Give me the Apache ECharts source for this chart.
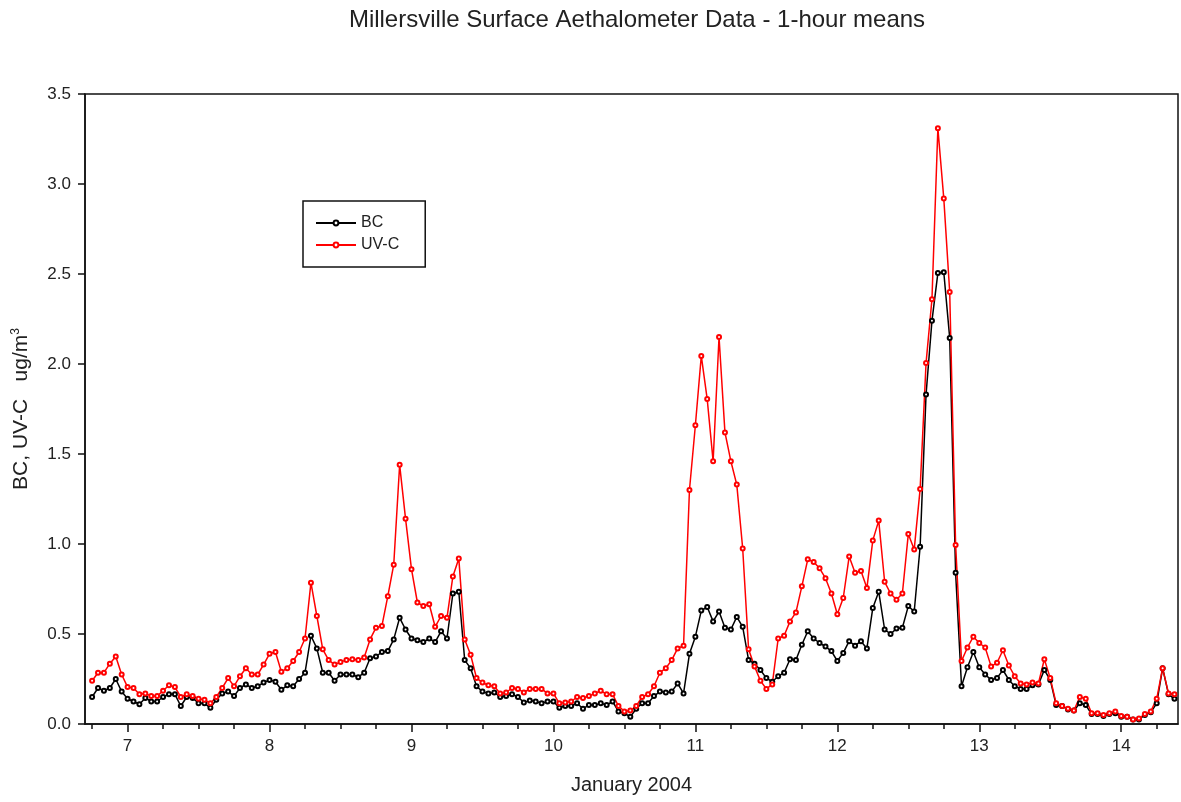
<!DOCTYPE html>
<html>
<head>
<meta charset="utf-8">
<script src="https://cdn.jsdelivr.net/npm/echarts@6/dist/echarts.min.js"></script>
<style>
  html, body { margin: 0; padding: 0; background: #fff; }
  #chart { width: 1181px; height: 802px; }
</style>
</head>
<body>
<div id="chart"></div>
<script>
// Hourly means, starting Jan 6 18:00 (day 6.75)
const startDay = 6.75;
const hoursPerDay = 24;

const bcValues = [
  0.15, 0.20, 0.185, 0.20, 0.25, 0.18, 0.14, 0.125, 0.11, 0.145,
  0.125, 0.125, 0.15, 0.165, 0.165, 0.10, 0.15, 0.145, 0.115, 0.115,
  0.09, 0.135, 0.17, 0.18, 0.155, 0.20, 0.22, 0.20, 0.21, 0.23,
  0.245, 0.235, 0.19, 0.215, 0.21, 0.25, 0.285, 0.49, 0.42, 0.285,
  0.285, 0.24, 0.275, 0.275, 0.275, 0.26, 0.285, 0.365, 0.375, 0.40,
  0.405, 0.47, 0.59, 0.525, 0.475, 0.465, 0.455, 0.475, 0.455, 0.515,
  0.475, 0.725, 0.735, 0.355, 0.31, 0.21, 0.18, 0.17, 0.175, 0.15,
  0.155, 0.165, 0.15, 0.12, 0.13, 0.125, 0.115, 0.125, 0.125, 0.09,
  0.10, 0.10, 0.115, 0.085, 0.105, 0.105, 0.115, 0.105, 0.125, 0.07,
  0.06, 0.04, 0.085, 0.115, 0.115, 0.155, 0.18, 0.175, 0.18, 0.225,
  0.17, 0.39, 0.485, 0.63, 0.65, 0.57, 0.625, 0.535, 0.525, 0.595,
  0.54, 0.355, 0.335, 0.30, 0.255, 0.235, 0.265, 0.285, 0.36, 0.355,
  0.44, 0.515, 0.475, 0.45, 0.43, 0.405, 0.35, 0.395, 0.46, 0.435,
  0.46, 0.42, 0.645, 0.735, 0.525, 0.50, 0.53, 0.535, 0.655, 0.625,
  0.985, 1.83, 2.24, 2.505, 2.51, 2.145, 0.84, 0.21, 0.315, 0.40,
  0.315, 0.275, 0.245, 0.255, 0.30, 0.245, 0.21, 0.195, 0.195, 0.215,
  0.22, 0.30, 0.245, 0.105, 0.10, 0.08, 0.075, 0.115, 0.105, 0.055,
  0.055, 0.045, 0.055, 0.06, 0.04, 0.04, 0.025, 0.025, 0.05, 0.065,
  0.115, 0.31, 0.165, 0.14
];

const uvcValues = [
  0.24, 0.285, 0.285, 0.335, 0.375, 0.275, 0.205, 0.20, 0.165, 0.17,
  0.155, 0.155, 0.185, 0.215, 0.205, 0.15, 0.165, 0.155, 0.14, 0.135,
  0.115, 0.15, 0.20, 0.255, 0.21, 0.265, 0.31, 0.275, 0.275, 0.33,
  0.39, 0.40, 0.29, 0.31, 0.35, 0.40, 0.475, 0.785, 0.60, 0.415,
  0.355, 0.33, 0.345, 0.355, 0.36, 0.355, 0.37, 0.47, 0.535, 0.545,
  0.71, 0.885, 1.44, 1.14, 0.86, 0.675, 0.655, 0.665, 0.54, 0.60,
  0.59, 0.82, 0.92, 0.47, 0.385, 0.255, 0.23, 0.215, 0.21, 0.17,
  0.175, 0.20, 0.195, 0.175, 0.195, 0.195, 0.195, 0.17, 0.17, 0.115,
  0.12, 0.125, 0.15, 0.145, 0.155, 0.17, 0.185, 0.165, 0.165, 0.10,
  0.07, 0.075, 0.10, 0.15, 0.165, 0.21, 0.285, 0.31, 0.355, 0.42,
  0.435, 1.30, 1.66, 2.045, 1.805, 1.46, 2.15, 1.62, 1.46, 1.33,
  0.975, 0.415, 0.32, 0.24, 0.195, 0.22, 0.475, 0.49, 0.57, 0.62,
  0.765, 0.915, 0.90, 0.865, 0.81, 0.725, 0.61, 0.70, 0.93, 0.84,
  0.85, 0.755, 1.02, 1.13, 0.79, 0.725, 0.69, 0.725, 1.055, 0.97,
  1.305, 2.005, 2.36, 3.31, 2.92, 2.40, 0.995, 0.35, 0.425, 0.485,
  0.45, 0.425, 0.32, 0.34, 0.41, 0.325, 0.265, 0.225, 0.22, 0.23,
  0.225, 0.36, 0.255, 0.115, 0.10, 0.085, 0.075, 0.15, 0.14, 0.06,
  0.06, 0.05, 0.06, 0.07, 0.045, 0.04, 0.025, 0.03, 0.055, 0.07,
  0.14, 0.31, 0.17, 0.165
];

const dayTicks = [7, 8, 9, 10, 11, 12, 13, 14];
const quarterTicks = [];
for (let q = 6.75; q <= 14.26; q += 0.25) quarterTicks.push(+q.toFixed(2));

const toPairs = vals => vals.map((v, i) => [startDay + i / hoursPerDay, v]);

const textColor = '#222';
const font = 'Liberation Sans, Arial, sans-serif';

const chart = echarts.init(document.getElementById('chart'), null, { renderer: 'canvas' });

chart.setOption({
  animation: false,
  backgroundColor: '#fff',
  title: {
    text: 'Millersville Surface Aethalometer Data - 1-hour means',
    left: 632, top: 3, textAlign: 'center',
    textStyle: { fontFamily: font, fontSize: 24, fontWeight: 'normal', color: textColor }
  },
  grid: {
    left: 85, top: 94, right: 3, bottom: 78,
    show: true, borderColor: '#111', borderWidth: 1.5, backgroundColor: 'transparent'
  },
  legend: {
    left: 303, top: 201, orient: 'vertical',
    borderColor: '#111', borderWidth: 1.5,
    padding: [14, 26, 14, 12],
    itemWidth: 40, itemHeight: 6, itemGap: 6,
    textStyle: { fontFamily: font, fontSize: 16, color: textColor },
    data: ['BC', 'UV-C']
  },
  xAxis: [
    {
      type: 'value', min: 6.7, max: 14.4, position: 'bottom',
      name: 'January 2004', nameLocation: 'middle', nameGap: 51,
      nameTextStyle: { fontFamily: font, fontSize: 20, color: textColor },
      axisLine: { lineStyle: { color: '#111', width: 1.5 } },
      axisTick: { show: true, length: 8, lineStyle: { color: '#111', width: 1.5 }, customValues: dayTicks },
      axisLabel: { fontFamily: font, fontSize: 17, color: textColor, margin: 14, customValues: dayTicks },
      splitLine: { show: false }
    },
    {
      type: 'value', min: 6.7, max: 14.4, position: 'bottom',
      axisLine: { show: false },
      axisTick: { show: true, length: 5, lineStyle: { color: '#111', width: 1.5 }, customValues: quarterTicks },
      axisLabel: { show: false },
      splitLine: { show: false }
    }
  ],
  yAxis: {
    type: 'value', min: 0, max: 3.5, interval: 0.5,
    name: 'BC, UV-C   ug/m{sup|3}', nameLocation: 'middle', nameGap: 53, nameRotate: 90,
    nameTextStyle: {
      fontFamily: font, fontSize: 21, color: textColor,
      rich: { sup: { fontFamily: font, fontSize: 12, color: textColor, verticalAlign: 'top', padding: [0, 0, 10, 0] } }
    },
    axisLine: { show: true, lineStyle: { color: '#111', width: 1.5 } },
    axisTick: { show: true, length: 7, lineStyle: { color: '#111', width: 1.5 } },
    axisLabel: {
      fontFamily: font, fontSize: 17, color: textColor, margin: 14,
      formatter: v => v.toFixed(1)
    },
    splitLine: { show: false }
  },
  series: [
    {
      name: 'BC', type: 'line', xAxisIndex: 0,
      data: toPairs(bcValues),
      symbol: 'emptyCircle', symbolSize: 4,
      lineStyle: { color: '#000', width: 1.5 },
      itemStyle: { color: '#000', borderWidth: 1.2 }
    },
    {
      name: 'UV-C', type: 'line', xAxisIndex: 0,
      data: toPairs(uvcValues),
      symbol: 'emptyCircle', symbolSize: 4,
      lineStyle: { color: '#ff0000', width: 1.5 },
      itemStyle: { color: '#ff0000', borderWidth: 1.2 }
    }
  ]
});
</script>
</body>
</html>
